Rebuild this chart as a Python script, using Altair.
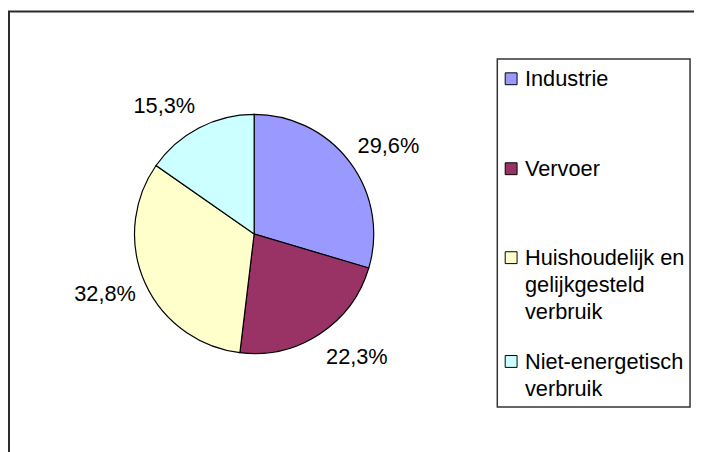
import altair as alt
import pandas as pd

# ---- data ----
categories = ["Industrie", "Vervoer", "Huishoudelijk en gelijkgesteld verbruik", "Niet-energetisch verbruik"]
legend_text = ["Industrie", "Vervoer", "Huishoudelijk en\ngelijkgesteld\nverbruik", "Niet-energetisch\nverbruik"]
values = [29.6, 22.3, 32.8, 15.3]
labels = ["29,6%", "22,3%", "32,8%", "15,3%"]
colors = ["#9999FF", "#993366", "#FFFFCC", "#CCFFFF"]

# ---- layout (svg pixel coordinates) ----
W, H = 694, 444
CX, CY, R = 249, 226, 121
LABEL_R = 162
label_offsets = [(6, 8), (15, -11), (-3, -5), (-16, 14)]
legend_box = (495, 49, 690, 401)
legend_sym_x = 509
legend_text_x = 523
legend_first_line = [69, 160, 250, 355]
FS = 22
LINE_H = 27.5
FONT = "Liberation Sans"

df = pd.DataFrame({"cat": categories, "value": values, "label": labels,
                   "idx": list(range(len(categories))), "ltext": legend_text})
dummy = pd.DataFrame({"a": [0]})

color = alt.Color("cat:N", scale=alt.Scale(domain=categories, range=colors), legend=None)

pie = alt.Chart(df).mark_arc(outerRadius=R, stroke="black", strokeWidth=1.2).encode(
    theta=alt.Theta("value:Q", stack=True),
    order=alt.Order("idx:Q"),
    color=color,
    x=alt.value(CX), y=alt.value(CY),
)

lab_base = alt.Chart(df).transform_window(
    cum="sum(value)", sort=[alt.SortField("idx")]
).transform_calculate(mid="datum.cum - datum.value / 2")

label_layers = []
for i, (dx, dy) in enumerate(label_offsets):
    label_layers.append(
        lab_base.transform_filter(f"datum.idx == {i}").mark_text(
            font=FONT, fontSize=FS, color="black", align="center", baseline="middle", dx=dx, dy=dy
        ).encode(
            theta=alt.Theta("mid:Q", scale=alt.Scale(domain=[0, sum(values)])),
            radius=alt.value(LABEL_R),
            text="label:N",
            x=alt.value(CX), y=alt.value(CY),
        )
    )

frame = alt.Chart(dummy).mark_rect(fill="white", fillOpacity=0, stroke="#2b2b2b", strokeWidth=2).encode(
    x=alt.value(1), x2=alt.value(W + 50), y=alt.value(1), y2=alt.value(H + 50)
)

lbox = alt.Chart(dummy).mark_rect(fill="white", fillOpacity=0, stroke="#333333", strokeWidth=1.5).encode(
    x=alt.value(legend_box[0]), x2=alt.value(legend_box[2]),
    y=alt.value(legend_box[1]), y2=alt.value(legend_box[3])
)

legend_layers = []
for i, yc in enumerate(legend_first_line):
    sub = alt.Chart(df).transform_filter(f"datum.idx == {i}")
    legend_layers.append(
        sub.mark_square(size=144, stroke="black", strokeWidth=1, opacity=1).encode(
            color=color, x=alt.value(legend_sym_x), y=alt.value(yc)
        )
    )
    legend_layers.append(
        sub.transform_calculate(lines="split(datum.ltext, '\\n')").mark_text(
            font=FONT, fontSize=FS, color="black", align="left", baseline="top", lineHeight=LINE_H
        ).encode(
            text="lines:N", x=alt.value(legend_text_x), y=alt.value(yc - 0.432 * FS)
        )
    )

chart = alt.layer(frame, pie, *label_layers, lbox, *legend_layers).resolve_scale(
    theta="independent"
).properties(
    width=W, height=H, padding=0, autosize="none"
).configure_view(stroke=None)

chart.save("out.html", embed_options={"renderer": "svg", "actions": False})
